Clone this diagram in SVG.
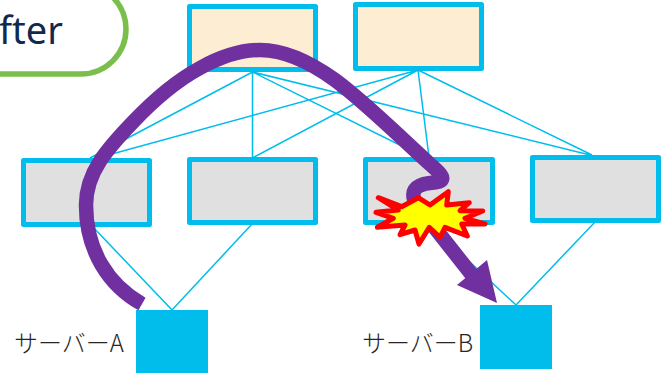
<svg xmlns="http://www.w3.org/2000/svg" width="665" height="373" viewBox="0 0 665 373">
<style>
.top{fill:#fdeed3;stroke:#00bdeb;stroke-width:5;stroke-linejoin:round}
.mid{fill:#e0e0e0;stroke:#00bdeb;stroke-width:5;stroke-linejoin:round}
.srv{fill:#00bdeb}
.lnk{stroke:#00bdeb;stroke-width:1.500;fill:none}
.lbl{font-family:"Noto Sans CJK JP","Noto Sans",sans-serif;font-size:24px;font-weight:300;fill:#262626}
</style>
<g id="title">
<path d="M-5 74H81A45 45 0 0 0 81 -16" fill="none" stroke="#7abf4b" stroke-width="5.500"/>
<text x="-1" y="44" font-family="'Noto Sans','Open Sans',sans-serif" font-size="38" fill="#12284c">fter</text>
</g>
<g id="top1"><rect class="top" x="189.500" y="6.500" width="126" height="63"/></g>
<g id="top2"><rect class="top" x="355.500" y="4.500" width="126" height="64"/></g>
<g id="mid1"><rect class="mid" x="23.500" y="160.500" width="126" height="64"/></g>
<g id="mid2"><rect class="mid" x="189.500" y="159.500" width="126" height="63"/></g>
<g id="mid3"><rect class="mid" x="365.500" y="159.500" width="127" height="63"/></g>
<g id="mid4"><rect class="mid" x="532.500" y="157.500" width="126" height="63"/></g>
<g id="serverA"><rect class="srv" x="136" y="310" width="72" height="63"/><text class="lbl" x="14" y="352">サーバーA</text></g>
<g id="serverB"><rect class="srv" x="480" y="305" width="72" height="64"/><text class="lbl" x="362" y="352">サーバーB</text></g>
<g id="connectors">
<path class="lnk" d="M252.500 72L90 158M252.500 72V158M252.500 72L424 157M252.500 72L590 155M418 70L90 160M418 70L252.500 158M418 70L429 157M418 70L592 155M92 226L172 310M252 224L172 310M429 224L516 305M595 222L516 305"/>
<path d="M142 304C108 285 86 250 86 205C86 172 108 148 133 122C152 102 176 81 200 68C220 57 240 50 260 50C285 50 310 62 335 80C365 102 400 137 432 166C446 178 446 182 430 183C414 185 410 192 416 204L472 275" fill="none" stroke="#7030a0" stroke-width="14.500"/>
<polygon points="497,303 457,285 487,260" fill="#7030a0"/>
</g>
<g id="burst"><polygon points="378.300,197.700 401.700,206.700 418.300,197.700 430,205 448.300,191.700 446.700,205 469.300,202.700 460,210.700 482.700,211 465,218.300 485,224 461.700,224 467.300,236 445,227.300 440,237.300 429.300,227.300 419,244 415,230 400,234.700 405,225 377.300,227.300 393.300,218.300 376,212.300 398.300,210" fill="#ffff00" stroke="#ff0000" stroke-width="5" stroke-linejoin="round"/></g>
</svg>
